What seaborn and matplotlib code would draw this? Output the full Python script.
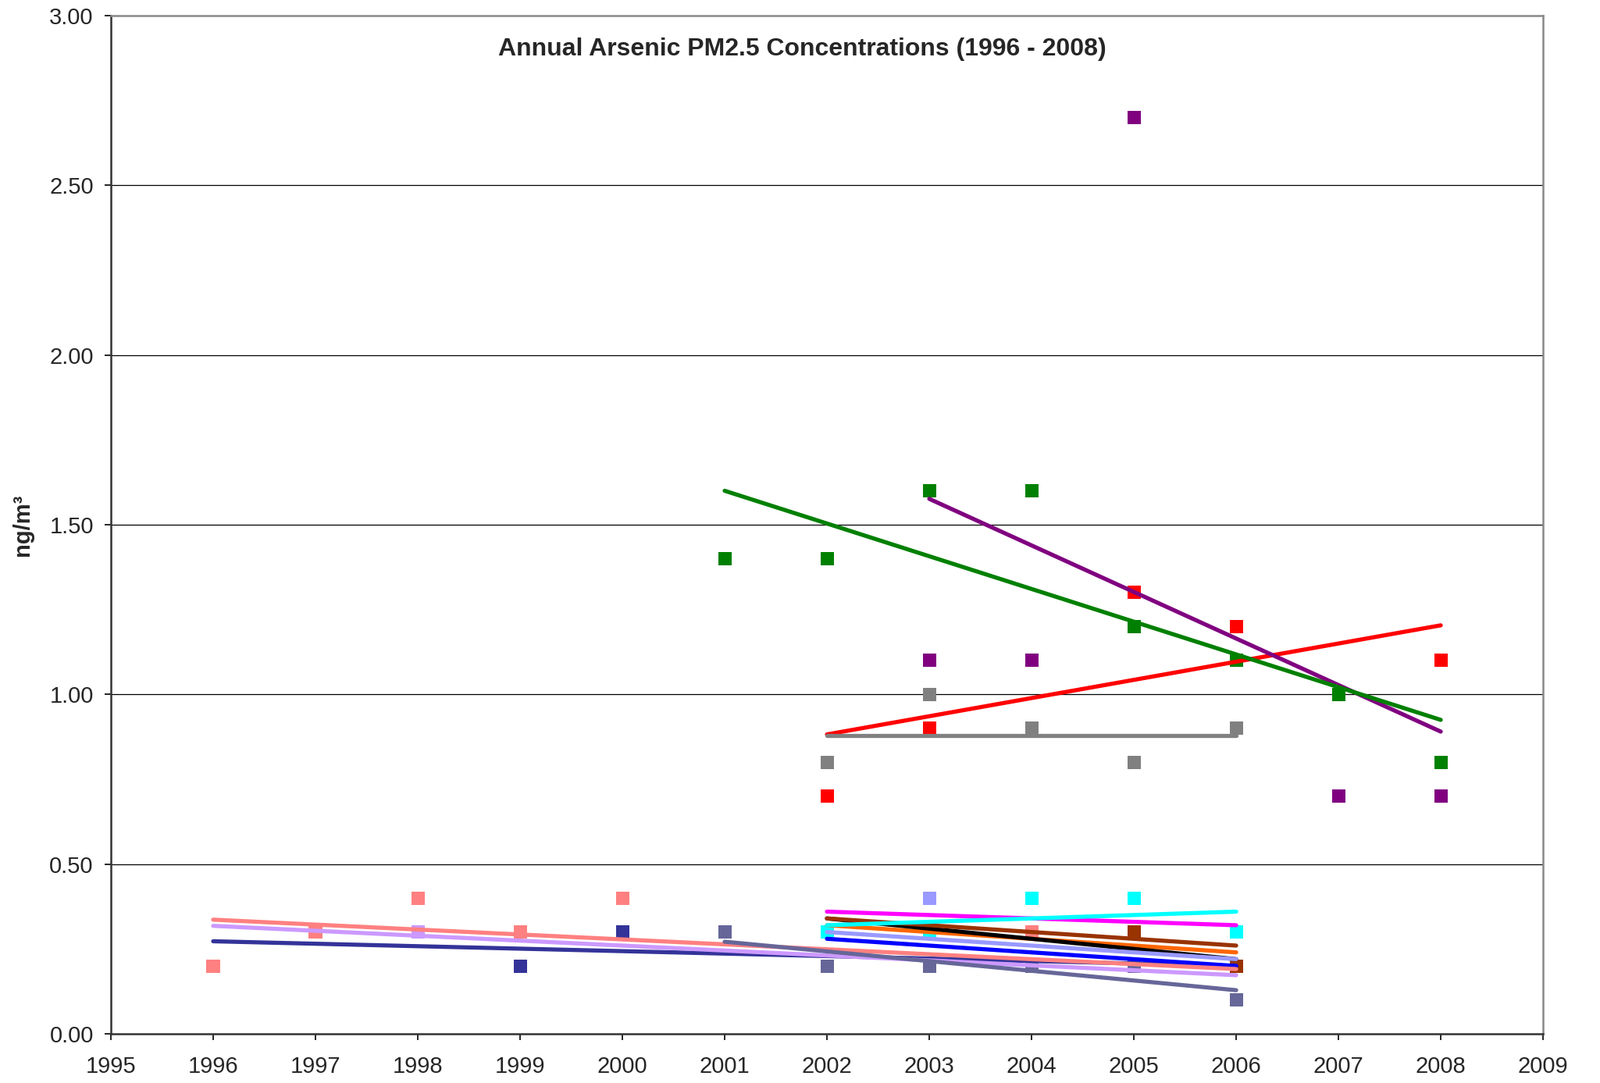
import numpy as np
import pandas as pd
import matplotlib.pyplot as plt
import seaborn as sns

sns.set_style('white')
plt.rcParams['font.family'] = ['Liberation Sans', 'DejaVu Sans']

# annual arsenic PM2.5 means per site (ng/m3)
yrs_long = list(range(1996, 2007))
yrs_slate = list(range(2001, 2007))
yrs_short = list(range(2002, 2007))
yrs_red = list(range(2002, 2009))
yrs_purple = list(range(2003, 2009))
yrs_green = list(range(2001, 2009))

navy = [0.2, 0.3, 0.3, 0.2, 0.3, 0.3, 0.2, 0.2, 0.2, 0.2, 0.2]
lavender = [0.2, 0.3, 0.3, 0.3, 0.4, 0.3, 0.2, 0.2, 0.2, 0.2, 0.1]
salmon = [0.2, 0.3, 0.4, 0.3, 0.4, 0.3, 0.2, 0.2, 0.3, 0.2, 0.1]
slate = [0.3, 0.2, 0.2, 0.2, 0.2, 0.1]
magenta = [0.3, 0.4, 0.4, 0.3, 0.3]
orange = [0.3, 0.3, 0.3, 0.3, 0.2]
black = [0.3, 0.4, 0.2, 0.3, 0.2]
periwinkle = [0.2, 0.4, 0.3, 0.2, 0.2]
blue = [0.3, 0.2, 0.3, 0.2, 0.2]
brown = [0.3, 0.3, 0.4, 0.3, 0.2]
cyan = [0.3, 0.3, 0.4, 0.4, 0.3]
red = [0.7, 0.9, 1.1, 1.3, 1.2, 1.0, 1.1]
purple = [1.1, 1.1, 2.7, 1.1, 0.7, 0.7]
green = [1.4, 1.4, 1.6, 1.6, 1.2, 1.1, 1.0, 0.8]
gray = [0.8, 1.0, 0.9, 0.8, 0.9]

# draw order = excel series order (later ones on top)
series = [
    (yrs_long, navy, '#333399'),
    (yrs_long, lavender, '#CC99FF'),
    (yrs_short, magenta, '#FF00FF'),
    (yrs_short, orange, '#FF6600'),
    (yrs_short, black, '#000000'),
    (yrs_short, periwinkle, '#9999FF'),
    (yrs_short, blue, '#0000FF'),
    (yrs_long, salmon, '#FF8080'),
    (yrs_short, brown, '#993300'),
    (yrs_slate, slate, '#666699'),
    (yrs_short, cyan, '#00FFFF'),
    (yrs_red, red, '#FF0000'),
    (yrs_purple, purple, '#800080'),
    (yrs_green, green, '#008000'),
    (yrs_short, gray, '#808080'),
]

fig = plt.figure(figsize=(20.49, 13.87), dpi=100)
ax = fig.add_axes([0.0693, 0.0454, 0.8951, 0.9402])

# markers first
for i, (yrs, vals, col) in enumerate(series):
    df = pd.DataFrame({'year': yrs, 'conc': vals})
    sns.scatterplot(data=df, x='year', y='conc', marker='s', s=150,
                    color=col, edgecolor='none', linewidth=0,
                    zorder=3 + i * 0.01, ax=ax)

# linear trendlines on top
for i, (yrs, vals, col) in enumerate(series):
    df = pd.DataFrame({'year': yrs, 'conc': vals})
    sns.regplot(data=df, x='year', y='conc', scatter=False, ci=None,
                truncate=True, color=col,
                line_kws=dict(lw=3.8, solid_capstyle='round', zorder=4 + i * 0.01),
                ax=ax)

# axes, grid
ax.set_xlim(1995, 2009)
ax.set_ylim(0, 3)
ax.set_xticks(range(1995, 2010))
ax.set_yticks(np.arange(0, 3.01, 0.5))
ax.set_yticklabels([f'{v:.2f}' for v in np.arange(0, 3.01, 0.5)])
for g in [0.5, 1.0, 1.5, 2.0, 2.5]:
    ax.axhline(g, color='black', lw=0.9, zorder=1)
ax.set_xlabel('')
ax.set_ylabel('')
ax.tick_params(axis='both', labelsize=21, direction='out', length=6,
               width=1.2, color='black', left=True, bottom=True)
ax.tick_params(axis='x', pad=14)
ax.tick_params(axis='y', pad=10)

for side in ['left', 'bottom']:
    ax.spines[side].set_color('#333333')
    ax.spines[side].set_linewidth(1.8)
for side in ['top', 'right']:
    ax.spines[side].set_color('#888888')
    ax.spines[side].set_linewidth(1.8)

ax.text(0.4826, 0.967, 'Annual Arsenic PM2.5 Concentrations (1996 - 2008)',
        transform=ax.transAxes, ha='center', va='center',
        fontsize=23, fontweight='bold')
fig.text(29 / 2049, 0.515, 'ng/m³', rotation=90, ha='center', va='center',
         fontsize=21, fontweight='bold')

fig.savefig('out.png', dpi=100, facecolor='white')
